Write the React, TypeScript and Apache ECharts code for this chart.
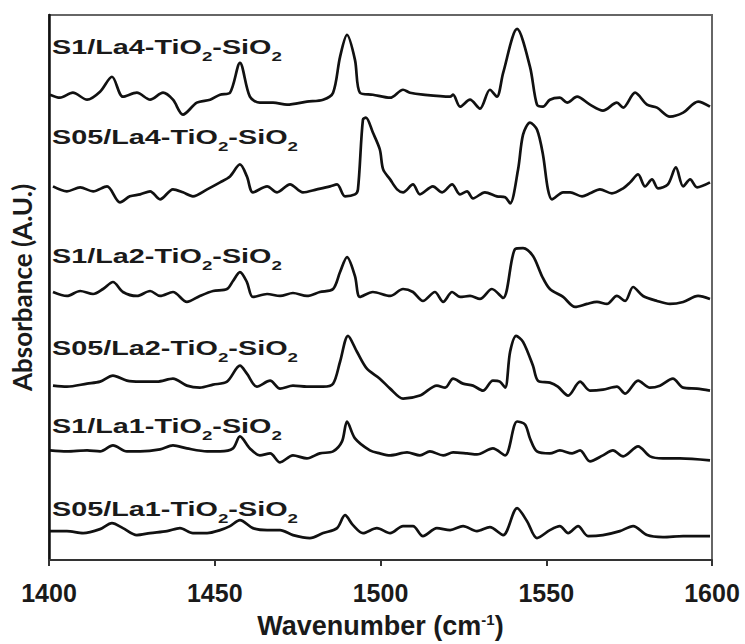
import React, { useEffect, useRef } from "react";
import * as echarts from "echarts";

// Wavenumber axis
const X_MIN = 1400;
const X_MAX = 1600;
const X_STEP = 50;

// Sample names (top to bottom)
const sampleNames = ["S1/La4", "S05/La4", "S1/La2", "S05/La2", "S1/La1", "S05/La1"];

// Spectra: [wavenumber (cm-1), absorbance (A.U., offset for stacking)]
const s1La4: number[][] = [
  [1400.3, 4.67], [1403.3, 4.64], [1407.2, 4.69], [1411.5, 4.62], [1415.4, 4.7], [1419.0, 4.85],
  [1422.3, 4.65], [1426.5, 4.69], [1430.5, 4.62], [1434.4, 4.69], [1437.4, 4.62], [1440.4, 4.47],
  [1444.6, 4.59], [1448.6, 4.62], [1451.6, 4.67], [1454.6, 4.69], [1457.6, 4.99], [1460.6, 4.65],
  [1463.6, 4.59], [1467.6, 4.59], [1471.8, 4.57], [1477.8, 4.6], [1482.7, 4.62], [1485.7, 4.69],
  [1487.8, 5.05], [1489.9, 5.27], [1492.3, 5.02], [1493.8, 4.69], [1497.7, 4.67], [1502.9, 4.64],
  [1506.8, 4.72], [1508.9, 4.69], [1512.8, 4.67], [1521.0, 4.65], [1521.9, 4.67], [1524.0, 4.55],
  [1527.0, 4.62], [1530.0, 4.53], [1533.0, 4.72], [1535.1, 4.65], [1537.0, 4.89], [1541.2, 5.33],
  [1545.1, 4.95], [1547.2, 4.57], [1549.0, 4.55], [1551.1, 4.62], [1554.1, 4.64], [1556.3, 4.59],
  [1559.3, 4.65], [1563.2, 4.57], [1567.1, 4.51], [1571.3, 4.59], [1573.2, 4.54], [1576.8, 4.69],
  [1580.4, 4.57], [1583.4, 4.54], [1587.3, 4.45], [1591.3, 4.49], [1595.8, 4.6], [1599.4, 4.55],
];

const s05La4: number[][] = [
  [1401.2, 3.75], [1405.4, 3.7], [1409.4, 3.74], [1413.3, 3.7], [1417.5, 3.75], [1421.4, 3.59],
  [1424.4, 3.65], [1427.5, 3.67], [1430.5, 3.7], [1433.5, 3.62], [1437.4, 3.72], [1440.4, 3.69],
  [1443.4, 3.65], [1447.7, 3.72], [1451.6, 3.79], [1454.6, 3.85], [1457.6, 3.97], [1459.7, 3.85],
  [1461.5, 3.69], [1465.8, 3.75], [1468.8, 3.69], [1472.7, 3.77], [1476.6, 3.69], [1480.8, 3.72],
  [1484.8, 3.75], [1486.9, 3.77], [1489.3, 3.65], [1492.3, 3.67], [1493.2, 3.72], [1494.7, 4.42],
  [1495.6, 4.44], [1497.7, 4.29], [1499.8, 4.12], [1500.8, 3.92], [1502.9, 3.82], [1505.0, 3.72],
  [1506.8, 3.69], [1509.8, 3.77], [1511.9, 3.67], [1515.8, 3.75], [1518.6, 3.69], [1521.6, 3.77],
  [1524.0, 3.67], [1526.1, 3.7], [1527.9, 3.63], [1531.5, 3.69], [1535.1, 3.65], [1537.6, 3.64],
  [1539.1, 3.58], [1541.5, 3.92], [1543.0, 4.27], [1545.1, 4.39], [1547.2, 4.32], [1549.0, 4.07],
  [1550.5, 3.72], [1551.7, 3.62], [1555.1, 3.69], [1557.2, 3.69], [1560.8, 3.65], [1563.2, 3.68],
  [1566.2, 3.72], [1569.8, 3.68], [1573.2, 3.73], [1575.3, 3.79], [1577.7, 3.87], [1579.8, 3.75],
  [1581.9, 3.82], [1583.7, 3.73], [1586.7, 3.77], [1589.1, 3.94], [1591.3, 3.75], [1593.4, 3.82],
  [1595.5, 3.74], [1599.4, 3.79],
];

const s1La2: number[][] = [
  [1401.2, 2.69], [1405.4, 2.65], [1409.4, 2.7], [1413.3, 2.67], [1416.3, 2.72], [1419.3, 2.79],
  [1422.3, 2.69], [1426.5, 2.65], [1430.5, 2.7], [1433.5, 2.65], [1437.4, 2.69], [1441.6, 2.59],
  [1445.5, 2.65], [1449.5, 2.7], [1453.7, 2.72], [1455.5, 2.8], [1457.6, 2.89], [1459.7, 2.79],
  [1461.5, 2.64], [1465.8, 2.67], [1469.7, 2.65], [1473.6, 2.68], [1477.8, 2.65], [1481.7, 2.69],
  [1485.7, 2.72], [1487.8, 2.89], [1489.9, 3.04], [1492.3, 2.85], [1493.8, 2.64], [1497.7, 2.69],
  [1502.9, 2.65], [1506.8, 2.72], [1509.8, 2.69], [1512.8, 2.6], [1516.4, 2.69], [1518.9, 2.59],
  [1521.6, 2.69], [1524.0, 2.64], [1527.0, 2.65], [1530.0, 2.62], [1533.6, 2.72], [1537.0, 2.63],
  [1540.6, 3.12], [1543.0, 3.13], [1546.0, 3.05], [1548.7, 2.85], [1551.1, 2.72], [1555.1, 2.64],
  [1558.7, 2.54], [1562.3, 2.57], [1565.3, 2.59], [1568.3, 2.57], [1571.3, 2.65], [1573.8, 2.6],
  [1576.2, 2.74], [1579.2, 2.65], [1583.4, 2.6], [1587.3, 2.57], [1591.3, 2.59], [1595.8, 2.65],
  [1599.4, 2.62],
];

const s05La2: number[][] = [
  [1401.2, 1.75], [1405.4, 1.74], [1411.5, 1.77], [1415.4, 1.79], [1419.3, 1.85], [1423.5, 1.8],
  [1427.5, 1.79], [1432.6, 1.79], [1437.4, 1.82], [1441.6, 1.75], [1445.5, 1.73], [1449.5, 1.76],
  [1453.7, 1.79], [1457.6, 1.95], [1459.7, 1.87], [1462.7, 1.74], [1466.7, 1.8], [1469.7, 1.72],
  [1473.6, 1.75], [1477.8, 1.74], [1482.7, 1.74], [1485.7, 1.77], [1487.8, 1.99], [1490.2, 2.25],
  [1492.9, 2.09], [1495.9, 1.92], [1499.8, 1.82], [1502.9, 1.72], [1506.8, 1.62], [1511.9, 1.65],
  [1517.0, 1.75], [1519.5, 1.73], [1521.9, 1.82], [1524.9, 1.77], [1527.9, 1.75], [1530.9, 1.7],
  [1533.9, 1.8], [1536.0, 1.79], [1537.6, 1.73], [1539.1, 2.09], [1540.9, 2.25], [1543.0, 2.19],
  [1546.0, 1.95], [1547.5, 1.8], [1551.1, 1.78], [1553.5, 1.74], [1556.6, 1.65], [1560.2, 1.79],
  [1563.2, 1.7], [1567.1, 1.71], [1571.3, 1.74], [1573.8, 1.67], [1577.7, 1.8], [1581.3, 1.73],
  [1584.3, 1.75], [1588.2, 1.82], [1591.3, 1.73], [1595.5, 1.72], [1599.4, 1.7],
];

const s1La1: number[][] = [
  [1400.3, 1.1], [1405.4, 1.09], [1411.5, 1.1], [1415.4, 1.09], [1419.3, 1.15], [1423.5, 1.09],
  [1427.5, 1.09], [1433.5, 1.11], [1437.4, 1.15], [1441.6, 1.12], [1447.7, 1.09], [1451.6, 1.09],
  [1455.5, 1.12], [1457.6, 1.24], [1460.6, 1.12], [1463.6, 1.05], [1466.7, 1.07], [1469.7, 0.98],
  [1473.6, 1.05], [1477.8, 1.02], [1481.7, 1.07], [1485.7, 1.09], [1488.4, 1.19], [1489.9, 1.39],
  [1492.3, 1.22], [1496.8, 1.1], [1499.8, 1.07], [1502.9, 1.05], [1508.0, 1.08], [1511.9, 1.05],
  [1514.9, 1.09], [1518.9, 1.05], [1521.9, 1.08], [1526.1, 1.07], [1529.1, 1.06], [1533.9, 1.12],
  [1537.6, 1.05], [1541.2, 1.39], [1543.6, 1.36], [1545.1, 1.22], [1547.2, 1.09], [1551.1, 1.07],
  [1554.1, 1.1], [1557.8, 1.07], [1560.2, 1.1], [1563.2, 0.99], [1567.1, 1.05], [1570.1, 1.1],
  [1573.2, 1.04], [1577.7, 1.14], [1581.3, 1.04], [1585.2, 1.02], [1590.3, 1.02], [1599.4, 1.0],
];

const s05La1: number[][] = [
  [1400.3, 0.29], [1405.4, 0.29], [1410.3, 0.27], [1415.4, 0.31], [1419.0, 0.37], [1422.3, 0.32],
  [1426.5, 0.25], [1430.5, 0.27], [1435.6, 0.29], [1439.5, 0.32], [1443.4, 0.27], [1447.7, 0.27],
  [1451.6, 0.3], [1454.6, 0.34], [1457.6, 0.4], [1461.5, 0.32], [1465.8, 0.3], [1469.7, 0.3],
  [1473.6, 0.25], [1478.7, 0.22], [1482.7, 0.27], [1486.9, 0.32], [1489.3, 0.45], [1491.7, 0.35],
  [1494.7, 0.27], [1498.9, 0.32], [1502.9, 0.27], [1506.8, 0.34], [1509.8, 0.34], [1512.8, 0.24],
  [1517.0, 0.32], [1521.0, 0.3], [1524.9, 0.34], [1529.1, 0.29], [1533.0, 0.33], [1537.0, 0.25],
  [1541.2, 0.52], [1544.2, 0.39], [1547.2, 0.22], [1551.1, 0.3], [1554.1, 0.34], [1556.6, 0.27],
  [1559.6, 0.34], [1562.6, 0.24], [1567.1, 0.25], [1572.2, 0.29], [1576.2, 0.34], [1580.4, 0.25],
  [1585.2, 0.23], [1591.3, 0.24], [1599.4, 0.24],
];

const spectra = [s1La4, s05La4, s1La2, s05La2, s1La1, s05La1];

// Label vertical positions (layout only)
const labelTops = [50, 140, 259, 351, 429, 512];

export default function App() {
  const ref = useRef<HTMLDivElement>(null);

  useEffect(() => {
    if (!ref.current) return;
    const chart = echarts.init(ref.current, null, { renderer: "svg" });
    const font = "'Liberation Sans', Arial, sans-serif";

    const labelGraphics = sampleNames.map((n, i) => ({
      type: "text",
      x: 52,
      y: labelTops[i],
      scaleX: 1.44,
      z: 10,
      style: {
        text: `{a|${n}-TiO}{s|2}{a|-SiO}{s|2}`,
        verticalAlign: "middle",
        fill: "#1a1a1a",
        rich: {
          a: { fontSize: 20, fontWeight: "bold", fontFamily: font, fill: "#1a1a1a", verticalAlign: "top" },
          s: { fontSize: 13, fontWeight: "bold", fontFamily: font, fill: "#1a1a1a", verticalAlign: "bottom", padding: [12, 0, 0, 0] },
        },
      },
    }));

    chart.setOption({
      animation: false,
      backgroundColor: "#ffffff",
      grid: {
        left: 49,
        right: 33,
        top: 15,
        bottom: 82,
        show: true,
        borderColor: "#666",
        borderWidth: 2,
        backgroundColor: "transparent",
      },
      xAxis: {
        type: "value",
        min: X_MIN,
        max: X_MAX,
        interval: X_STEP,
        name: "{a|Wavenumber (cm}{s|-1}{a|)}",
        nameLocation: "middle",
        nameGap: 52,
        nameTextStyle: {
          rich: {
            a: { fontSize: 27, fontWeight: "bold", fontFamily: font, color: "#1a1a1a", verticalAlign: "bottom" },
            s: { fontSize: 15, fontWeight: "bold", fontFamily: font, color: "#1a1a1a", verticalAlign: "top" },
          },
        },
        axisLine: { show: true, lineStyle: { color: "#333", width: 2 } },
        axisTick: { show: true, inside: false, length: 6, lineStyle: { color: "#333", width: 2 } },
        axisLabel: {
          margin: 20,
          fontSize: 25,
          fontWeight: "bold",
          fontFamily: font,
          color: "#1a1a1a",
          formatter: (v: number) => String(v),
        },
        splitLine: { show: false },
      },
      yAxis: {
        type: "value",
        min: 0,
        max: 5.47,
        name: "Absorbance (A.U.)",
        nameLocation: "middle",
        nameGap: 14,
        nameTextStyle: {
          fontSize: 26,
          fontWeight: "bold",
          fontFamily: "Lato, 'Open Sans', sans-serif",
          color: "#1a1a1a",
        },
        axisLine: { show: true, lineStyle: { color: "#111", width: 2.5 } },
        axisTick: { show: false },
        axisLabel: { show: false },
        splitLine: { show: false },
      },
      series: spectra.map((d, i) => ({
        name: sampleNames[i],
        type: "line",
        data: d,
        showSymbol: false,
        smooth: 0.3,
        lineStyle: { color: "#111", width: 2.7 },
        z: 3,
      })),
      graphic: labelGraphics,
    });

    return () => {
      chart.dispose();
    };
  }, []);

  return (
    <div
      ref={ref}
      style={{ position: "fixed", left: 0, top: 0, width: 745, height: 644, background: "#fff" }}
    />
  );
}
